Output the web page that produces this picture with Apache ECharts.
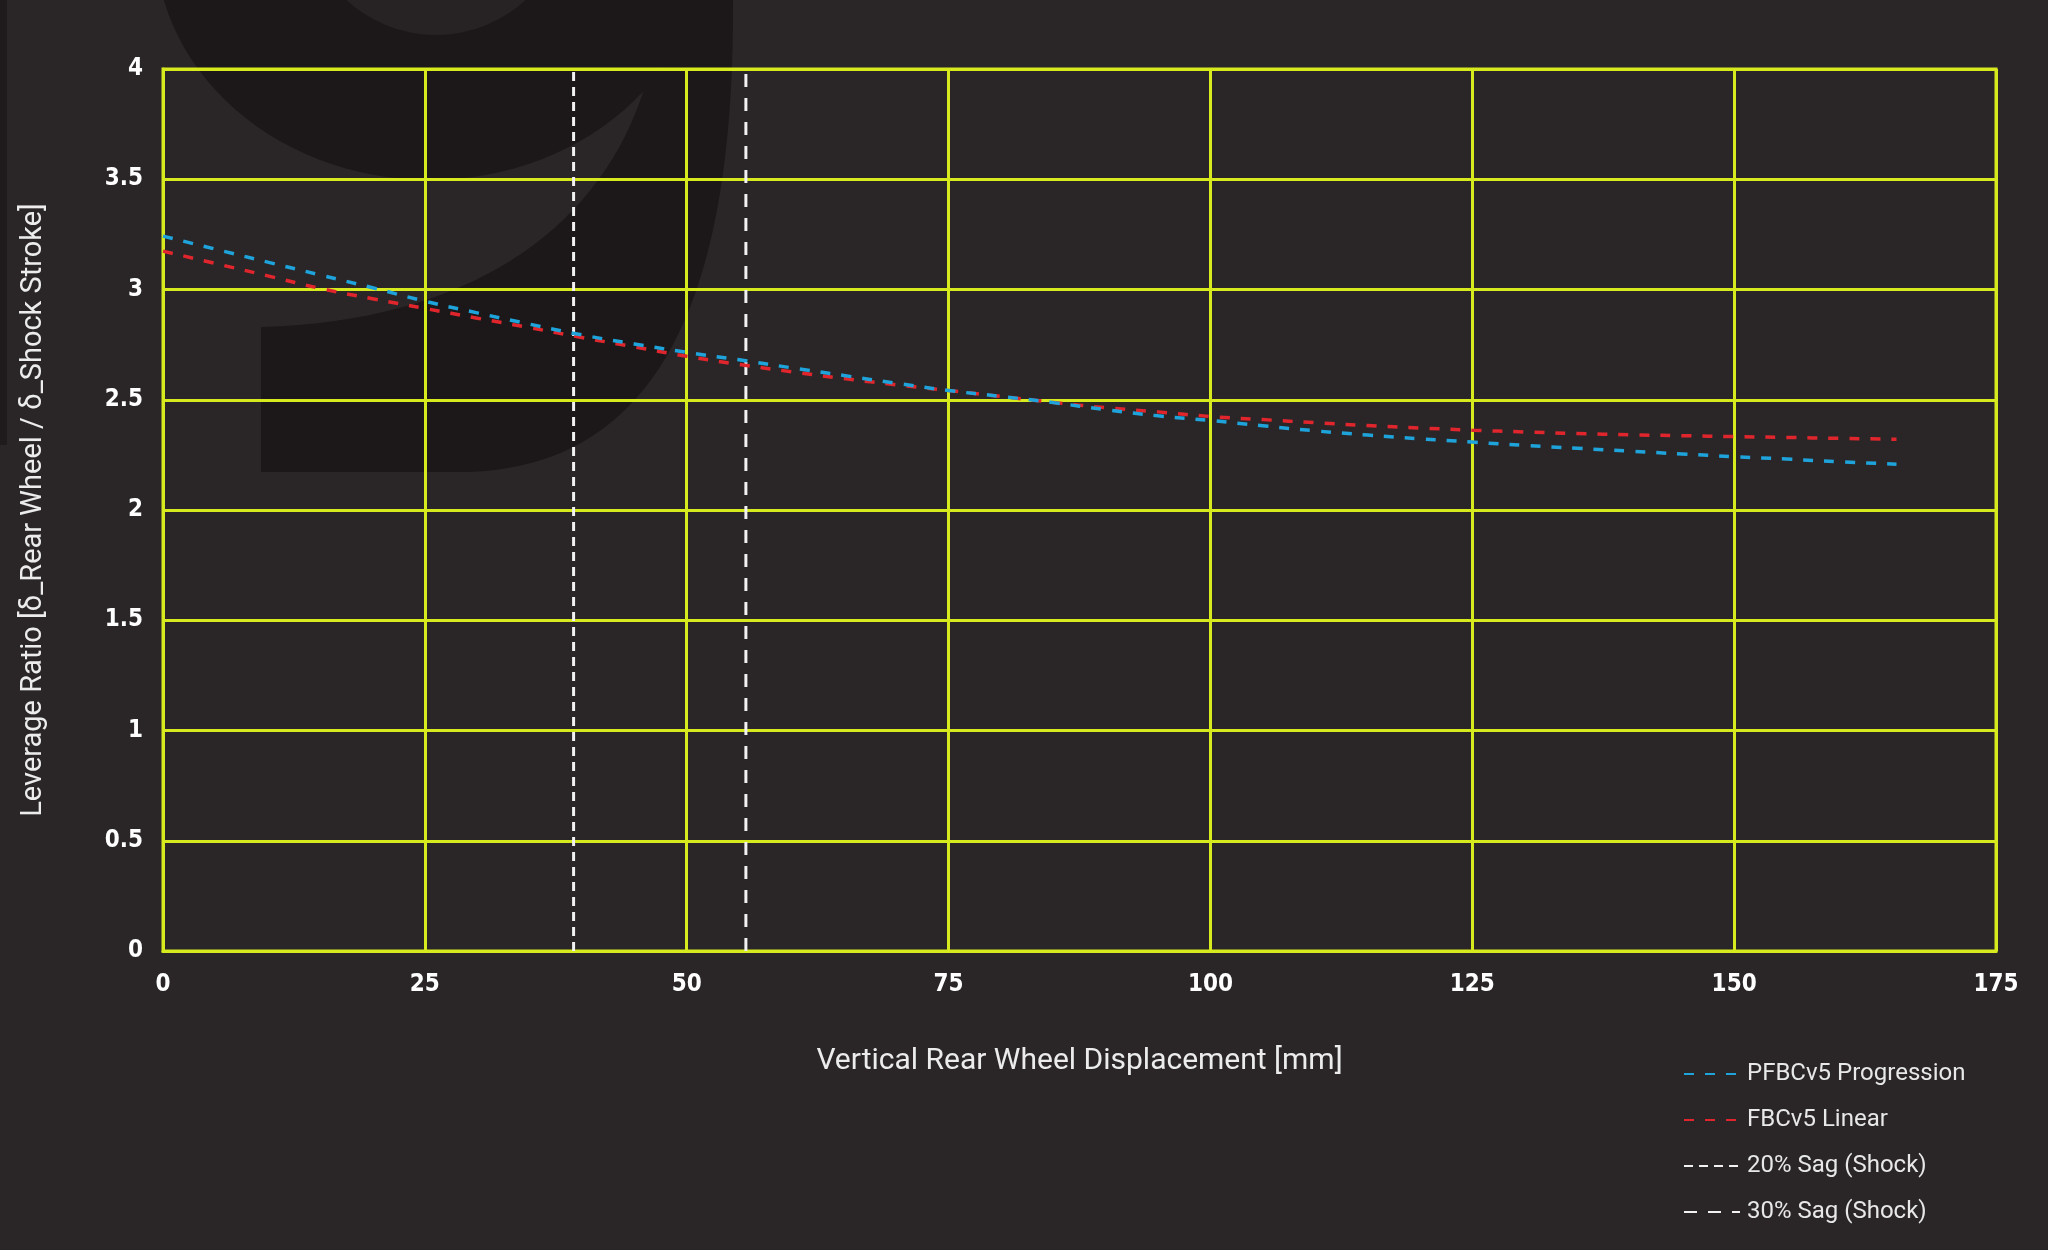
<!DOCTYPE html>
<html>
<head>
<meta charset="utf-8">
<script src="https://cdn.jsdelivr.net/npm/echarts@6/dist/echarts.min.js"></script>
<style>
html,body{margin:0;padding:0;background:#2a2628;}
#chart{width:2048px;height:1250px;}
</style>
</head>
<body>
<div id="chart"></div>
<script>
// Vertical rear wheel displacement (mm)
const travel = [0,5,10,15,20,25,30,35,40,45,50,55,60,65,70,75,80,85,90,95,100,105,110,115,120,125,130,135,140,145,150,155,160,165.5];
// PFBCv5 Progression leverage ratio
const pfbcv5 = [3.242,3.183,3.124,3.066,3.008,2.947,2.894,2.843,2.794,2.753,2.715,2.681,2.645,2.610,2.575,2.542,2.515,2.487,2.455,2.427,2.406,2.382,2.359,2.340,2.323,2.308,2.293,2.280,2.267,2.254,2.242,2.231,2.219,2.208];
// FBCv5 Linear leverage ratio
const fbcv5 = [3.174,3.118,3.062,3.005,2.958,2.914,2.870,2.827,2.782,2.740,2.697,2.660,2.627,2.596,2.568,2.542,2.515,2.488,2.464,2.445,2.424,2.410,2.396,2.383,2.372,2.362,2.354,2.347,2.341,2.337,2.333,2.329,2.325,2.321];
// Sag markers (mm)
const sag20 = 39.2;
const sag30 = 55.65;
const yRange = [0, 4];
const seriesNames = ['PFBCv5 Progression','FBCv5 Linear','20% Sag (Shock)','30% Sag (Shock)'];
const xName = 'Vertical Rear Wheel Displacement [mm]';
const yName = 'Leverage Ratio [δ_Rear Wheel / δ_Shock Stroke]';

const zip = (xs, ys) => xs.map((x, i) => [x, ys[i]]);
const gridColor = '#d6ea1e';
const dark = '#1c1819';
const bg = '#2a2628';

// decorative watermark shapes (background logo)
function ellipsePts(cx, cy, rx, ry) {
  const p = [];
  for (let i = 0; i < 120; i++) { const a = i / 120 * Math.PI * 2; p.push([cx + rx * Math.cos(a), cy + ry * Math.sin(a)]); }
  return p;
}
function bez(p0, p1, p2, p3, n) {
  const out = [];
  for (let i = 0; i <= n; i++) {
    const t = i / n, u = 1 - t;
    out.push([u*u*u*p0[0] + 3*u*u*t*p1[0] + 3*u*t*t*p2[0] + t*t*t*p3[0],
              u*u*u*p0[1] + 3*u*u*t*p1[1] + 3*u*t*t*p2[1] + t*t*t*p3[1]]);
  }
  return out;
}
const lowerG = [[261, 327], [261, 472]]
  .concat(bez([470, 472], [640, 465], [735, 330], [733, 0], 40))
  .concat(bez([660, 0], [650, 180], [520, 320], [261, 327], 40));

const chart = echarts.init(document.getElementById('chart'), null, {renderer: 'canvas'});
chart.setOption({
  backgroundColor: bg,
  animation: false,
  graphic: [
    {type: 'rect', z: -10, silent: true, shape: {x: 0, y: 0, width: 7, height: 445}, style: {fill: '#1f1b1c'}},
    {type: 'polygon', z: -10, silent: true, shape: {points: lowerG}, style: {fill: dark}},
    {type: 'polygon', z: -10, silent: true, shape: {points: ellipsePts(430, -60, 275, 240)}, style: {fill: dark}},
    {type: 'circle', z: -9, silent: true, shape: {cx: 436, cy: -97, r: 132}, style: {fill: '#272324'}}
  ],
  grid: {left: 163, right: 52, top: 69, bottom: 299, show: true, borderColor: gridColor, borderWidth: 3, backgroundColor: 'transparent'},
  legend: {
    orient: 'vertical', left: 1678, top: 1057,
    itemWidth: 56, itemHeight: 14, itemGap: 22,
    itemStyle: {opacity: 0},
    textStyle: {color: '#e8e8e8', fontSize: 24, fontFamily: 'Roboto', lineHeight: 24, padding: [0,0,0,2]},
    data: seriesNames.map(n => ({name: n}))
  },
  xAxis: {
    type: 'value', min: 0, max: 175, interval: 25,
    name: xName, nameLocation: 'middle', nameGap: 95,
    nameTextStyle: {color: '#ececec', fontSize: 30, fontFamily: 'Roboto'},
    axisLine: {show: true, lineStyle: {color: gridColor, width: 3}},
    axisTick: {show: false},
    axisLabel: {color: '#ffffff', fontSize: 24, fontWeight: 'bold', fontFamily: 'DejaVu Sans Condensed', margin: 22},
    splitLine: {show: true, lineStyle: {color: gridColor, width: 3}}
  },
  yAxis: {
    type: 'value', min: yRange[0], max: yRange[1], interval: 0.5,
    name: yName, nameLocation: 'middle', nameGap: 115, nameRotate: 90,
    nameTextStyle: {color: '#ececec', fontSize: 29, fontFamily: 'Roboto'},
    axisLine: {show: true, lineStyle: {color: gridColor, width: 3}},
    axisTick: {show: false},
    axisLabel: {color: '#ffffff', fontSize: 24, fontWeight: 'bold', fontFamily: 'DejaVu Sans Condensed', margin: 20},
    splitLine: {show: true, lineStyle: {color: gridColor, width: 3}}
  },
  series: [
    {name: seriesNames[0], type: 'line', symbol: 'none', smooth: true, z: 5,
     data: zip(travel, pfbcv5),
     lineStyle: {color: '#1ea4db', width: 3.5, type: [10, 11]}, itemStyle: {color: '#1ea4db'}},
    {name: seriesNames[1], type: 'line', symbol: 'none', smooth: true, z: 4,
     data: zip(travel, fbcv5),
     lineStyle: {color: '#e0262c', width: 3.5, type: [10, 11]}, itemStyle: {color: '#e0262c'}},
    {name: seriesNames[2], type: 'line', symbol: 'none', z: 3,
     data: [[sag20, yRange[0]], [sag20, yRange[1]]],
     lineStyle: {color: '#f2f2f2', width: 3, type: [9, 6]}, itemStyle: {color: '#f2f2f2'}},
    {name: seriesNames[3], type: 'line', symbol: 'none', z: 3,
     data: [[sag30, yRange[0]], [sag30, yRange[1]]],
     lineStyle: {color: '#f2f2f2', width: 3, type: [13, 11]}, itemStyle: {color: '#f2f2f2'}}
  ]
});
</script>
</body>
</html>
